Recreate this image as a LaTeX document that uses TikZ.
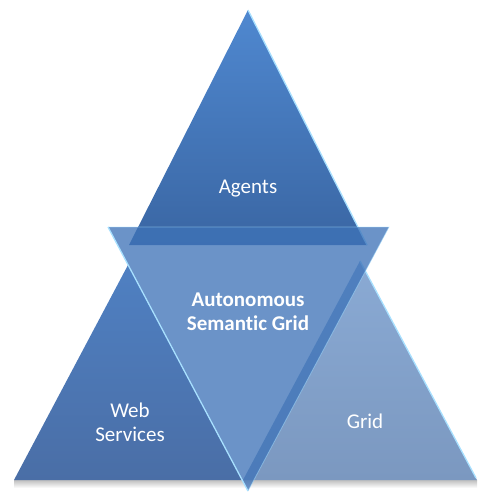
\documentclass[tikz,border=0pt]{standalone}
\usepackage{fontspec}
\newfontfamily\carlito[Ligatures=NoCommon]{Carlito}

\definecolor{agentsTop}{HTML}{4F88D0}
\definecolor{agentsBot}{HTML}{3A66A3}
\definecolor{webTop}{HTML}{4F80C2}
\definecolor{webBot}{HTML}{4A6EA6}
\definecolor{gridTop}{HTML}{8AAAD4}
\definecolor{gridBot}{HTML}{7B98C0}
\definecolor{coreFill}{HTML}{3E73B8}
\definecolor{gloss}{HTML}{A8E0FF}

\tikzset{
  labeltext/.style={text=white, align=center,
    font=\carlito\fontsize{21}{24}\selectfont},
  glossline/.style={draw=gloss, line width=1.3pt}
}

\begin{document}
\begin{tikzpicture}[x=1pt,y=-1pt]
  \useasboundingbox (0,0) rectangle (477,493);

  % Soft shadow under the two lower triangles
  \shade[top color=black!25, bottom color=white] (14,480) rectangle (477,488);

  % Web Services and Grid
  \shade[top color=webTop, bottom color=webBot] (14,480) -- (128,265) -- (242,480) -- cycle;
  \shade[top color=gridTop, bottom color=gridBot] (243,480) -- (360,261) -- (477,480) -- cycle;
  \draw[glossline] (360,261) -- (476,478);

  % Agents
  \shade[top color=agentsTop, bottom color=agentsBot] (248,10) -- (367,245) -- (129,245) -- cycle;
  \draw[glossline] (248,10) -- (367,245);

  % Upside-down triangle in the middle
  \fill[coreFill, fill opacity=0.77] (108,227) -- (389,227) -- (248,491) -- cycle;
  \draw[glossline] (108,227) -- (248,491);
  \draw[glossline, draw opacity=0.5, line width=0.8pt] (108,227) -- (389,227) -- (248,491);

  \node[labeltext, anchor=base] (agents) at (248,193) {Agents};
  \node[labeltext, font=\carlito\bfseries\fontsize{21}{24}\selectfont] (semgrid) at (248,312) {Autonomous\\Semantic Grid};
  \node[labeltext] (websvc) at (130,422) {Web\\Services};
  \node[labeltext, anchor=base] (grid) at (365,428) {Grid};
\end{tikzpicture}
\end{document}
